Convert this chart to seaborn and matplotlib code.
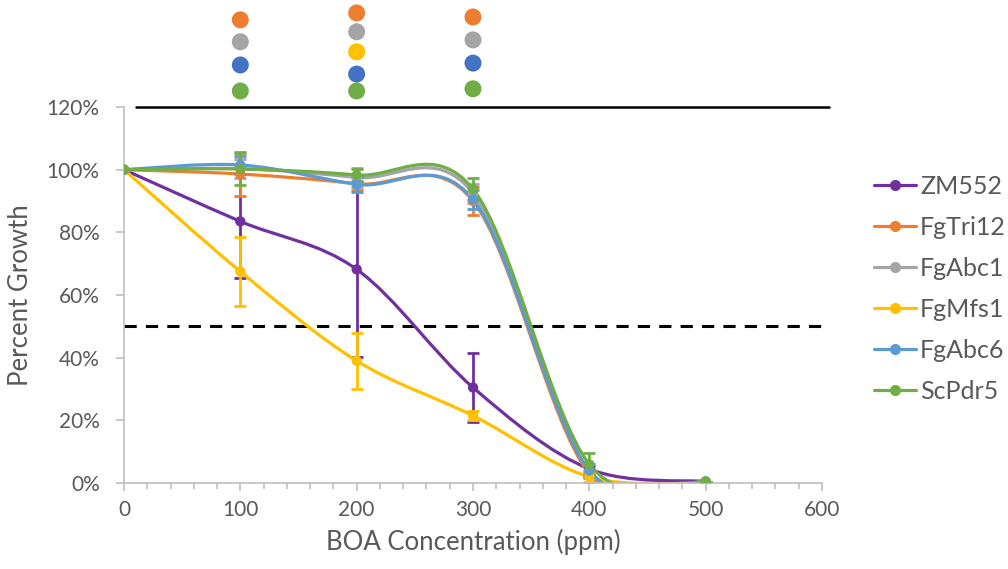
import matplotlib
matplotlib.use("Agg")
import matplotlib.pyplot as plt
import numpy as np
import pandas as pd
import seaborn as sns
from matplotlib.lines import Line2D
from matplotlib.patches import PathPatch
from matplotlib.path import Path
from matplotlib.ticker import FuncFormatter, MultipleLocator

# data (percent growth vs BOA concentration)
conc = [0, 100, 200, 300, 400, 500]
strains = ["ZM552", "FgTri12", "FgAbc1", "FgMfs1", "FgAbc6", "ScPdr5"]
zm552 = [100, 83.5, 68.2, 30.5, 4.5, 0.5]
fgtri12 = [100, 98.6, 95.5, 90.0, 3.0, 0.0]
fgabc1 = [100, 100.3, 97.5, 92.5, 4.0, 0.0]
fgmfs1 = [100, 67.5, 39.0, 21.5, 2.0, 0.0]
fgabc6 = [100, 101.5, 95.3, 90.5, 4.0, 0.5]
scpdr5 = [100, 100.2, 98.3, 93.8, 6.0, 0.5]

zm552_err = [0, 18, 28, 11, 1, 0]
fgtri12_err = [0, 7, 2, 4.5, 1.5, 0]
fgabc1_err = [0, 3, 3, 3, 2, 0]
fgmfs1_err = [0, 11, 9, 1.5, 1.5, 0]
fgabc6_err = [0, 3, 2.5, 3, 2, 0]
scpdr5_err = [0, 5, 2, 3.5, 3.5, 0]

# significance dots above the plot
sig_x = [100, 100, 100, 100, 200, 200, 200, 200, 200, 300, 300, 300, 300]
sig_y = [147.8, 140.8, 133.4, 125.1, 150.0, 144.0, 137.6, 130.5, 125.1, 148.7, 141.4, 134.0, 125.8]
sig_group = ["o", "g", "b", "gr", "o", "g", "y", "b", "gr", "o", "g", "b", "gr"]

colors = {
    "ZM552": "#7030A0",
    "FgTri12": "#ED7D31",
    "FgAbc1": "#A5A5A5",
    "FgMfs1": "#FFC000",
    "FgAbc6": "#5B9BD5",
    "ScPdr5": "#70AD47",
}
sig_colors = {"o": "#ED7D31", "g": "#A5A5A5", "y": "#FFC000", "b": "#4472C4", "gr": "#70AD47"}

values = [zm552, fgtri12, fgabc1, fgmfs1, fgabc6, scpdr5]
errors = [zm552_err, fgtri12_err, fgabc1_err, fgmfs1_err, fgabc6_err, scpdr5_err]

frame = pd.DataFrame(
    {
        "conc": conc * len(strains),
        "growth": np.concatenate(values),
        "strain": np.repeat(strains, len(conc)),
    }
)

sns.set_theme(style="white")
plt.rcParams["font.family"] = ["Lato", "DejaVu Sans"]
text_color = "#595959"


def smooth_path(xs, ys, k=1 / 6):
    """Excel-style smoothed line as cubic Bezier segments through the points."""
    pts = np.column_stack([xs, ys]).astype(float)
    n = len(pts)
    verts = [pts[0]]
    codes = [Path.MOVETO]
    for i in range(n - 1):
        prev_pt = pts[i - 1] if i > 0 else pts[i]
        next_pt = pts[i + 2] if i + 2 < n else pts[i + 1]
        c1 = pts[i] + (pts[i + 1] - prev_pt) * k
        c2 = pts[i + 1] - (next_pt - pts[i]) * k
        verts += [c1, c2, pts[i + 1]]
        codes += [Path.CURVE4] * 3
    return Path(verts, codes)


figure, axis = plt.subplots(figsize=(10.08, 5.69), dpi=100)
figure.subplots_adjust(left=0.123, right=0.8155, bottom=0.151, top=0.812)

for name, ys, err in zip(strains, values, errors):
    color = colors[name]
    axis.add_patch(
        PathPatch(smooth_path(conc, ys), facecolor="none", edgecolor=color, linewidth=2.3, zorder=2)
    )
    axis.errorbar(conc, ys, yerr=err, fmt="none", ecolor=color, elinewidth=2, capsize=4, capthick=2, zorder=2)

sns.scatterplot(
    data=frame,
    x="conc",
    y="growth",
    hue="strain",
    palette=colors,
    s=55,
    edgecolor="none",
    legend=False,
    ax=axis,
    zorder=3,
)

# significance markers above the plot area
axis.scatter(sig_x, sig_y, s=150, c=[sig_colors[g] for g in sig_group], edgecolors="none", clip_on=False, zorder=4)

# reference lines
axis.plot([10, 606], [120, 120], color="black", linewidth=1.8, clip_on=False, zorder=1)
axis.plot([0, 600], [50, 50], color="black", linewidth=2.2, linestyle=(0, (4, 3)), zorder=1)

axis.set_xlim(0, 600)
axis.set_ylim(0, 120)
axis.xaxis.set_major_locator(MultipleLocator(100))
axis.xaxis.set_minor_locator(MultipleLocator(20))
axis.yaxis.set_major_locator(MultipleLocator(20))
axis.yaxis.set_major_formatter(FuncFormatter(lambda v, _: f"{v:.0f}%"))

for side in ["top", "right"]:
    axis.spines[side].set_visible(False)
for side in ["left", "bottom"]:
    axis.spines[side].set_color("#BFBFBF")
    axis.spines[side].set_linewidth(1.2)

axis.tick_params(axis="both", which="major", direction="out", length=5.5, width=1.2, color="#BFBFBF",
                 labelsize=15, labelcolor=text_color, left=True, bottom=True)
axis.tick_params(axis="y", which="major", pad=12)
axis.tick_params(axis="x", which="major", pad=7)
axis.tick_params(axis="x", which="minor", direction="out", length=4.5, width=1.2, color="#BFBFBF", bottom=True)

axis.set_xlabel("BOA Concentration (ppm)", fontsize=18.5, color=text_color, labelpad=6)
axis.set_ylabel("Percent Growth", fontsize=18.5, color=text_color, labelpad=10)

handles = [
    Line2D([0], [0], color=colors[name], marker="o", markersize=7, linewidth=2.3, label=name)
    for name in strains
]
legend = figure.legend(
    handles=handles,
    loc="center left",
    bbox_to_anchor=(0.857, 0.492),
    frameon=False,
    fontsize=18,
    labelspacing=0.72,
    handlelength=1.7,
    handletextpad=0.15,
    borderaxespad=0,
)
for text in legend.get_texts():
    text.set_color(text_color)

figure.savefig("out.png", dpi=100)
plt.close(figure)
